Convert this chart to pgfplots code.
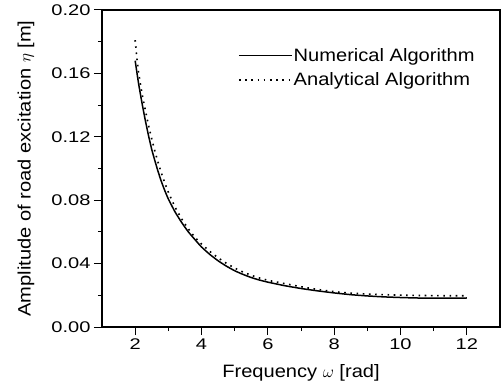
\documentclass[border=0pt]{standalone}
\usepackage{fontspec}
\setmainfont{Liberation Sans}[FakeStretch=1.12]
\newfontfamily\tickfont{Liberation Sans}[FakeStretch=1.3]
\usepackage{pgfplots}
\pgfplotsset{compat=1.18}
\begin{document}
\begin{tikzpicture}
\begin{axis}[
  at={(0,0)}, anchor=south west,
  scale only axis, width=398bp, height=317bp,
  xmin=1, xmax=13, ymin=0, ymax=0.2,
  xtick={2,4,6,8,10,12},
  ytick={0,0.04,0.08,0.12,0.16,0.20},
  minor x tick num=1, minor y tick num=1,
  tick align=outside, major tick length=8bp, minor tick length=4bp,
  xtick pos=bottom, ytick pos=left,
  axis line style={line width=1.3bp},
  every tick/.style={line width=1bp, black},
  scaled y ticks=false,
  yticklabel style={/pgf/number format/.cd, fixed, fixed zerofill, precision=2},
  /pgf/number format/assume math mode=true,
  ticklabel style={font=\tickfont\fontsize{15.5}{18}\selectfont},
  xlabel={Frequency $\omega$ [rad]},
  ylabel={Amplitude of road excitation $\eta$ [m]},
  label style={font=\fontsize{18}{21}\selectfont},
  xlabel style={at={(axis description cs:0.5,-0.145)}, anchor=center},
  ylabel style={at={(axis description cs:-0.191,0.5)}, anchor=center},
  legend style={at={(0.334,0.89)}, anchor=north west, draw=none, fill=none,
    font=\fontsize{18}{21}\selectfont, row sep=8bp, nodes={inner sep=1bp}},
  legend cell align=left,
  legend image code/.code={\draw[#1] (0bp,0bp) -- (53bp,0bp);},
]
\addplot[black, line width=1.5bp, smooth, tension=0.3] coordinates {
(2.0,0.168) (2.1,0.154) (2.2,0.142) (2.3,0.131) (2.4,0.121) (2.5,0.112)
(2.6,0.1045) (2.7,0.0975) (2.8,0.0912) (2.9,0.0857) (3.0,0.0808) (3.2,0.0727)
(3.4,0.0660) (3.6,0.0601) (3.8,0.0552) (4.0,0.0505) (4.25,0.0458) (4.5,0.0418)
(4.75,0.0384) (5.0,0.0355) (5.25,0.0332) (5.5,0.0312) (5.75,0.0296) (6.0,0.0283)
(6.5,0.0261) (7.0,0.0243) (7.5,0.0228) (8.0,0.0215) (8.5,0.0204) (9.0,0.0196)
(9.5,0.0190) (10.0,0.0186) (10.5,0.0183) (11.0,0.0182) (11.5,0.0182) (12.0,0.0183)
};
\addlegendentry{Numerical Algorithm}
\addplot[black, line width=1.6bp, dash pattern=on 1.6bp off 4.6bp, smooth, tension=0.3] coordinates {
(2.0,0.181) (2.05,0.170) (2.1,0.161) (2.2,0.148) (2.3,0.1375) (2.4,0.1275)
(2.5,0.1186) (2.6,0.1105) (2.7,0.1032) (2.8,0.0965) (2.9,0.0905) (3.0,0.0851)
(3.2,0.0758) (3.4,0.0683) (3.6,0.0620) (3.8,0.0567) (4.0,0.0524) (4.25,0.0477)
(4.5,0.0437) (4.75,0.0402) (5.0,0.0372) (5.25,0.0347) (5.5,0.0326) (5.75,0.0309)
(6.0,0.0295) (6.5,0.0274) (7.0,0.0254) (7.5,0.0237) (8.0,0.0223) (8.5,0.0214)
(9.0,0.0208) (9.5,0.0204) (10.0,0.0201) (10.5,0.0199) (11.0,0.0198) (11.5,0.0197)
(12.0,0.0197)
};
\addlegendentry{Analytical Algorithm}
\end{axis}
\pgfresetboundingbox
\path (-102bp,-63bp) rectangle (400bp,327bp);
\end{tikzpicture}
\end{document}
